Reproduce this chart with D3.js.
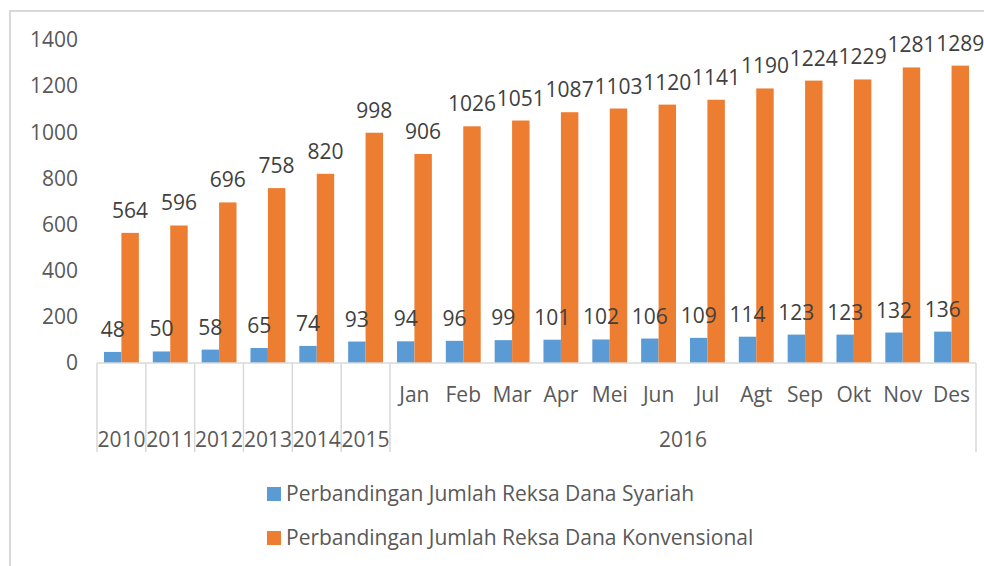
<!DOCTYPE html>
<html>
<head>
<meta charset="utf-8">
<script src="https://cdn.jsdelivr.net/npm/d3@7"></script>
<style>
  body { margin: 0; background: #fff; }
  text { font-family: "Open Sans", sans-serif; }
</style>
</head>
<body>
<div id="chart"></div>
<script>
// Data
var years        = [ "2010", "2011", "2012", "2013", "2014", "2015" ];
var months       = [ "Jan", "Feb", "Mar", "Apr", "Mei", "Jun", "Jul", "Agt", "Sep", "Okt", "Nov", "Des" ];
var groupLabel   = "2016";
var syariah      = [ 48, 50, 58, 65, 74, 93, 94, 96, 99, 101, 102, 106, 109, 114, 123, 123, 132, 136 ];
var konvensional = [ 564, 596, 696, 758, 820, 998, 906, 1026, 1051, 1087, 1103, 1120, 1141, 1190, 1224, 1229, 1281, 1289 ];
var yTicks       = [ 0, 200, 400, 600, 800, 1000, 1200, 1400 ];
var seriesNames  = [ "Perbandingan Jumlah Reksa Dana Syariah", "Perbandingan Jumlah Reksa Dana Konvensional" ];
var colors       = [ "#5b9bd5", "#ed7d31" ];

var chart_width  = 984;
var chart_height = 566;
var fontSize     = "21px";

var svg = d3.select("#chart")
    .append("svg")
    .attr("width", chart_width)
    .attr("height", chart_height);

// outer frame (cropped on right / bottom)
svg.append("rect")
    .attr("x", 10).attr("y", 11)
    .attr("width", 1000).attr("height", 600)
    .attr("fill", "none")
    .attr("stroke", "#d9d9d9")
    .attr("stroke-width", 2);

var cats = years.concat(months.map(function(m){ return "2016-" + m; }));

var x = d3.scaleBand()
    .domain(cats)
    .range([97, 976]);

var x1 = d3.scaleBand()
    .domain([0, 1])
    .range([0, x.bandwidth()])
    .paddingOuter(0.4);

var y = d3.scaleLinear()
    .domain([0, 1400])
    .range([363, 40]);

// y axis labels (no line)
var yAxis = svg.append("g")
    .attr("transform", "translate(78,0)")
    .call(d3.axisLeft(y).tickValues(yTicks).tickFormat(d3.format("d")).tickSize(0).tickPadding(0));
yAxis.select(".domain").remove();
yAxis.selectAll("text")
    .style("font-size", fontSize)
    .attr("fill", "#595959");

// bars
var series = [ syariah, konvensional ];
series.forEach(function(vals, s) {
    svg.append("g").selectAll("rect")
        .data(vals)
        .enter()
        .append("rect")
        .attr("x", function(d, i){ return x(cats[i]) + x1(s); })
        .attr("y", function(d){ return y(d); })
        .attr("width", x1.bandwidth())
        .attr("height", function(d){ return y(0) - y(d); })
        .attr("fill", colors[s]);
});

// data labels on top of everything
series.forEach(function(vals, s) {
    svg.append("g").selectAll("text")
        .data(vals)
        .enter()
        .append("text")
        .attr("x", function(d, i){ return x(cats[i]) + x1(s) + x1.bandwidth() / 2; })
        .attr("y", function(d){ return y(d) - 15; })
        .attr("text-anchor", "middle")
        .style("font-size", fontSize)
        .attr("fill", "#404040")
        .text(function(d){ return d; });
});

// category axis
var axis = svg.append("g")
    .attr("stroke", "#d9d9d9")
    .attr("stroke-width", 1.5);
axis.append("line")
    .attr("x1", x.range()[0]).attr("x2", x.range()[1])
    .attr("y1", y(0)).attr("y2", y(0));

var separators = years.map(function(c){ return x(c); })
    .concat([ x("2016-Jan"), x.range()[1] ]);
axis.selectAll("line.sep")
    .data(separators)
    .enter()
    .append("line")
    .attr("class", "sep")
    .attr("x1", function(d){ return d; }).attr("x2", function(d){ return d; })
    .attr("y1", y(0)).attr("y2", 452);

svg.append("g").selectAll("text")
    .data(months)
    .enter()
    .append("text")
    .attr("x", function(d){ return x("2016-" + d) + x.bandwidth() / 2; })
    .attr("y", 402)
    .attr("text-anchor", "middle")
    .style("font-size", fontSize)
    .attr("fill", "#595959")
    .text(function(d){ return d; });

svg.append("g").selectAll("text")
    .data(years)
    .enter()
    .append("text")
    .attr("x", function(d){ return x(d) + x.bandwidth() / 2; })
    .attr("y", 447)
    .attr("text-anchor", "middle")
    .style("font-size", fontSize)
    .attr("fill", "#595959")
    .text(function(d){ return d; });

svg.append("text")
    .attr("x", (x("2016-Jan") + x.range()[1]) / 2)
    .attr("y", 447)
    .attr("text-anchor", "middle")
    .style("font-size", fontSize)
    .attr("fill", "#595959")
    .text(groupLabel);

// legend
var legend = svg.append("g").selectAll("g")
    .data(seriesNames)
    .enter()
    .append("g")
    .attr("transform", function(d, i){ return "translate(267," + (494 + i * 44) + ")"; });
legend.append("rect")
    .attr("x", 0).attr("y", -7)
    .attr("width", 14).attr("height", 14)
    .attr("fill", function(d, i){ return colors[i]; });
legend.append("text")
    .attr("x", 19).attr("y", 7)
    .style("font-size", fontSize)
    .attr("fill", "#595959")
    .text(function(d){ return d; });
</script>
</body>
</html>
